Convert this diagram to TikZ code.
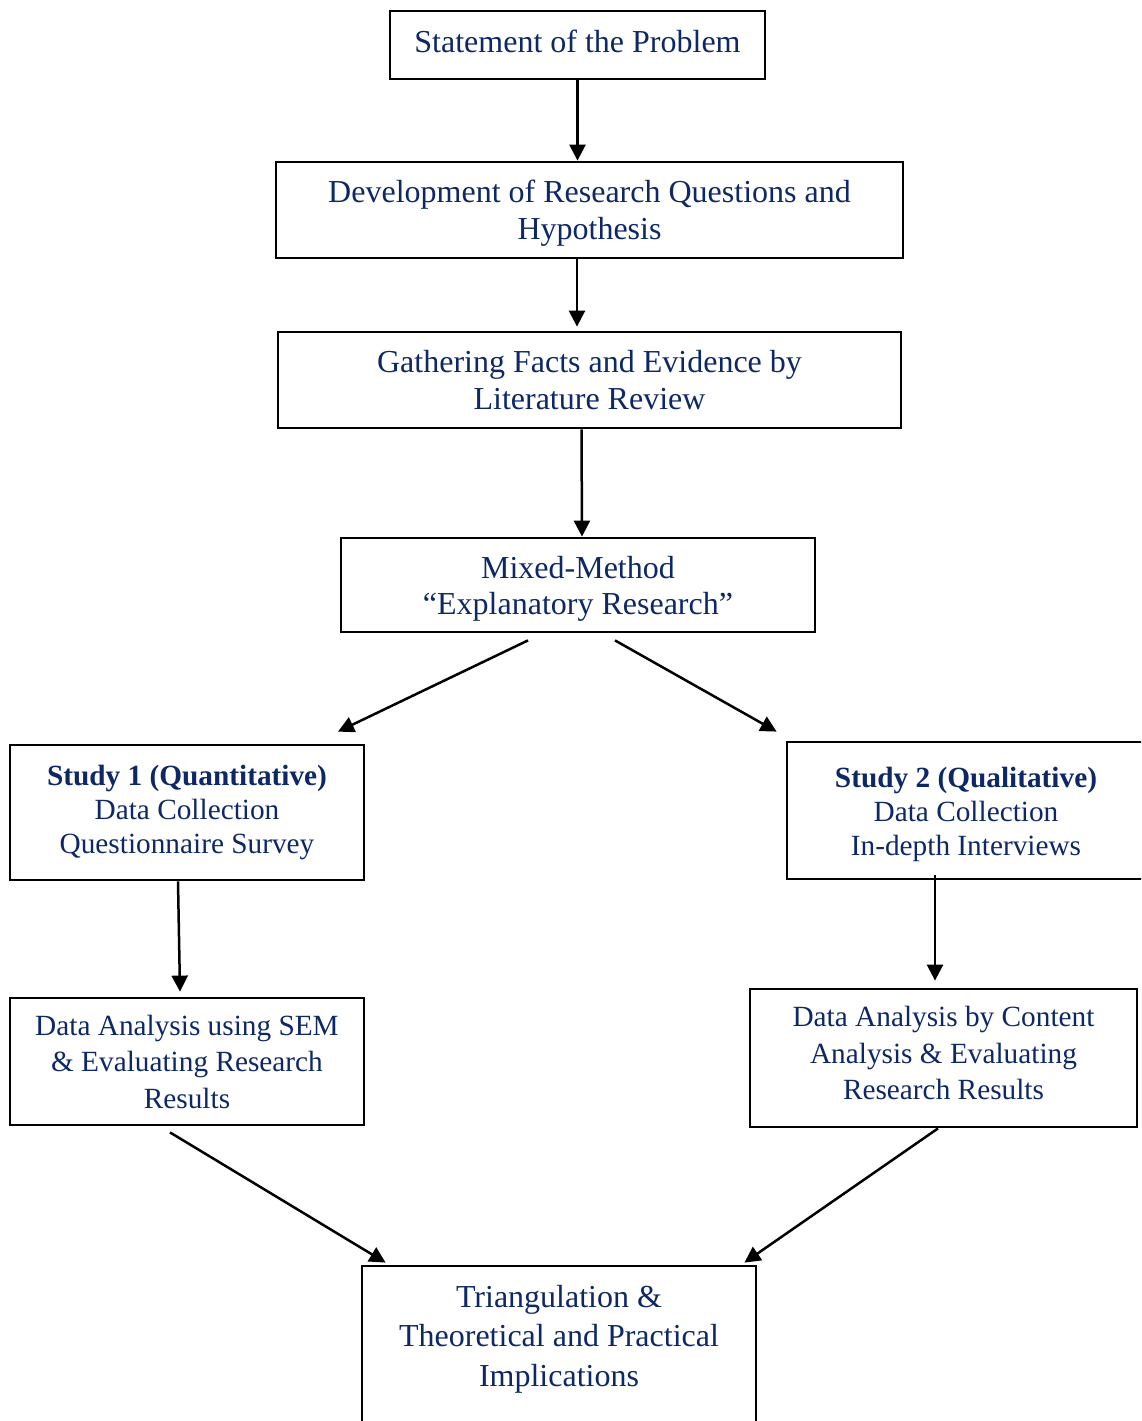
\documentclass[tikz,border=0pt]{standalone}
\usepackage{fontspec}
\setmainfont{Liberation Serif}
\usetikzlibrary{arrows.meta}
\definecolor{navy}{RGB}{14,40,102}
% struts that lift or lower a node's text block inside its frame
\newcommand{\toppad}[1]{\rule{0pt}{#1}}
\newcommand{\botpad}[1]{\rule[-#1]{0pt}{0pt}}
\begin{document}
\begin{tikzpicture}[x=1pt,y=-1pt,
  box/.style={draw=black,line width=2.8pt,rectangle,align=center,inner sep=0pt,
    text=navy,font=\fontsize{32}{36.5}\selectfont},
  smallbox/.style={box,font=\fontsize{29.3}{36.5}\selectfont},
  studybox/.style={box,font=\fontsize{29.3}{34}\selectfont},
  arr/.style={line width=2.5pt,-{Triangle[length=16pt,width=16pt]}}]
\useasboundingbox (0,0) rectangle (1141,1421);
\clip (0,0) rectangle (1141,1421);
\fill[white] (0,0) rectangle (1141,1421);

% boxes of the flow
\node[box,minimum width=375pt,minimum height=68pt] (s) at (577.5,45)
  {Statement of the Problem\botpad{8pt}};
\node[box,minimum width=627pt,minimum height=96pt] (d) at (589.5,210)
  {\toppad{29pt}Development of Research Questions and\\Hypothesis};
\node[box,minimum width=623pt,minimum height=96pt] (g) at (589.5,380)
  {Gathering Facts and Evidence by\\Literature Review};
\node[box,minimum width=474pt,minimum height=94pt] (m) at (578,585)
  {\toppad{30pt}Mixed-Method\\``Explanatory Research''};
\node[studybox,minimum width=354pt,minimum height=135pt] (st1) at (187,812.5)
  {\textbf{Study 1 (Quantitative)}\\Data Collection\\Questionnaire Survey};
\node[studybox,minimum width=358pt,minimum height=137pt] (st2) at (966,810.5)
  {\toppad{29pt}\textbf{Study 2 (Qualitative)}\\Data Collection\\In-depth Interviews};
\node[smallbox,minimum width=354pt,minimum height=127pt] (sem) at (187,1061.5)
  {Data Analysis using SEM\\\& Evaluating Research\\Results};
\node[smallbox,minimum width=387pt,minimum height=138pt] (ca) at (943.5,1058)
  {Data Analysis by Content\\Analysis \& Evaluating\\Research Results\botpad{10pt}};
\node[box,minimum width=394pt,minimum height=180pt] (tri) at (559,1356) {};
\node[text=navy,align=center,inner sep=0pt,anchor=north,font=\fontsize{32}{39.5}\selectfont] (tritext)
  at ([yshift=-20pt]tri.north)
  {Triangulation \&\\Theoretical and Practical\\Implications};

% connectors
\draw[arr] (s.south) -- (s.south |- d.north);
\draw[arr] ([xshift=-12.5pt]d.south) -- ([xshift=-12.5pt,yshift=4pt]g.north);
\draw[arr] ([xshift=-8pt]g.south) -- ([xshift=4pt]m.north);
\draw[arr] ([xshift=-50pt,yshift=-7pt]m.south) -- ([xshift=151pt,yshift=12pt]st1.north);
\draw[arr] ([xshift=37pt,yshift=-7pt]m.south) -- ([xshift=-9pt,yshift=9pt]st2.north west);
\draw[arr] ([xshift=-9pt]st1.south) -- ([xshift=-7pt,yshift=5pt]sem.north);
\draw[arr] ([xshift=-31pt,yshift=5pt]st2.south) -- ([xshift=-8.5pt,yshift=7pt]ca.north);
\draw[arr] ([xshift=-17pt,yshift=-6pt]sem.south) -- ([xshift=25pt,yshift=2pt]tri.north west);
\draw[arr] ([xshift=-5.5pt]ca.south) -- ([xshift=-13pt,yshift=2pt]tri.north east);
\end{tikzpicture}
\end{document}
